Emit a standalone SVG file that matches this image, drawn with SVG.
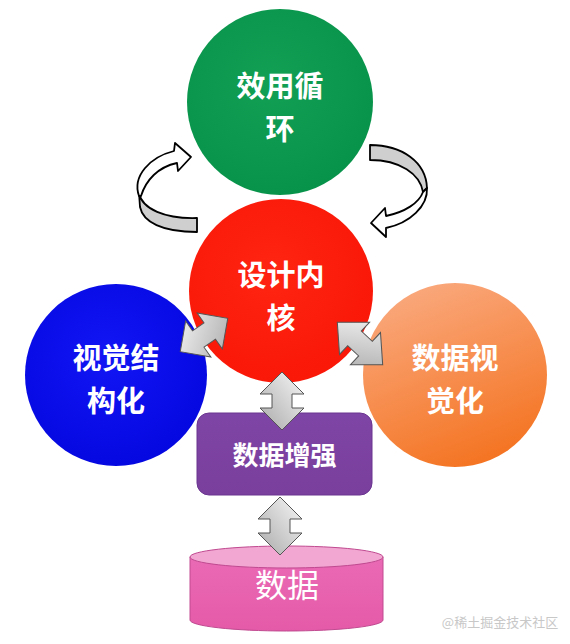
<svg xmlns="http://www.w3.org/2000/svg" width="570" height="644" viewBox="0 0 570 644">
<defs>
<style>
.t{font-family:"Noto Sans CJK SC","Noto Sans CJK JP",sans-serif;font-weight:bold;fill:#fff;text-anchor:middle;font-size:29px}
.dbl{stroke:#555;stroke-width:1}
.curve{fill:#fff;stroke:#000;stroke-width:1.8;stroke-linejoin:round}
.curveg{fill:#cfcfcf;stroke:#000;stroke-width:1.8;stroke-linejoin:round}
</style>
<radialGradient id="gG" cx="0.45" cy="0.4" r="0.6"><stop offset="0" stop-color="#12a055"/><stop offset="1" stop-color="#08934a"/></radialGradient>
<radialGradient id="gR" cx="0.45" cy="0.4" r="0.6"><stop offset="0" stop-color="#ff2412"/><stop offset="1" stop-color="#fa1808"/></radialGradient>
<radialGradient id="gB" cx="0.45" cy="0.4" r="0.6"><stop offset="0" stop-color="#1216f5"/><stop offset="1" stop-color="#0508e0"/></radialGradient>
<linearGradient id="gO" x1="0.2" y1="0" x2="0.6" y2="1"><stop offset="0" stop-color="#faaa80"/><stop offset="1" stop-color="#f47422"/></linearGradient>
<linearGradient id="gP" x1="0" y1="0" x2="0" y2="1"><stop offset="0" stop-color="#7f45a6"/><stop offset="1" stop-color="#7a3f9c"/></linearGradient>
<linearGradient id="gA" x1="0" y1="0" x2="1" y2="1"><stop offset="0" stop-color="#f7f7f7"/><stop offset="1" stop-color="#a9a9a9"/></linearGradient>
<linearGradient id="gC" x1="0" y1="0" x2="0" y2="1"><stop offset="0" stop-color="#ea6ab5"/><stop offset="1" stop-color="#e55aa8"/></linearGradient>
<path id="dbl" d="M-29,0 L-7,-22 L-7,-10 L7,-10 L7,-22 L29,0 L7,22 L7,10 L-7,10 L-7,22 Z"/>
</defs>

<g id="cycle-arrows">
<path class="curveg" d="M139,193 C142,209 165,219 197,218 L197,232 C162,232 143,222 140,207 Z"/>
<path class="curve" d="M139,196 C132,176 150,157 174,151 L175,143 L191,157 L178,171 L177,163 C158,167 146,180 141,196 Z"/>
<path class="curveg" d="M370,145 C402,145 426,162 427,188 L423,192 C420,174 400,160 370,160 Z"/>
<path class="curve" d="M427,188 C428,206 410,223 386,228 L386,237 L371,223 L385,208 L386,216 C405,212 419,203 423,192 Z"/>
</g>

<g id="node-xiaoyong">
<circle cx="280" cy="102" r="93" fill="url(#gG)"/>
<text class="t" x="280" y="97">效用循<tspan x="280" dy="42.5">环</tspan></text>
</g>

<g id="node-shijijuehua">
<circle cx="116" cy="375" r="91" fill="url(#gB)"/>
<text class="t" x="116" y="369">视觉结<tspan x="116" dy="42.5">构化</tspan></text>
</g>

<g id="node-shujushijue">
<circle cx="455" cy="375" r="92" fill="url(#gO)"/>
<text class="t" x="455" y="369">数据视<tspan x="455" dy="42.5">觉化</tspan></text>
</g>

<g id="node-sheji">
<circle cx="281" cy="291" r="92" fill="url(#gR)"/>
<text class="t" x="281" y="286">设计内<tspan x="281" dy="42.5">核</tspan></text>
</g>

<g id="node-zengqiang">
<rect x="197" y="413" width="175" height="82" rx="12" fill="url(#gP)" stroke="#6a3590" stroke-width="1"/>
<text class="t" x="284.5" y="465" style="font-size:26px">数据增强</text>
</g>

<g id="node-shuju">
<path d="M190,557 L190,620 A96.5,11 0 0 0 383,620 L383,557 Z" fill="url(#gC)" stroke="#c04a90" stroke-width="1"/>
<ellipse cx="286.5" cy="557" rx="96.5" ry="11" fill="#f2a6d2" stroke="#c04a90" stroke-width="1"/>
<text x="287" y="597" font-size="32" fill="#fff" text-anchor="middle" font-family="Noto Sans CJK SC,sans-serif">数据</text>
</g>

<g id="connectors" fill="url(#gA)" class="dbl">
<use href="#dbl" transform="translate(204,335) rotate(-35)" class="dbl"/>
<use href="#dbl" transform="translate(360,343.5) rotate(43) scale(1.07,1)" class="dbl"/>
<use href="#dbl" transform="translate(282,401) rotate(90)" class="dbl"/>
<use href="#dbl" transform="translate(280,526) rotate(90)" class="dbl"/>
</g>

<text x="500" y="627" font-size="13" fill="#c8c8c8" text-anchor="middle" font-family="Noto Sans CJK SC,sans-serif">@稀土掘金技术社区</text>
</svg>
